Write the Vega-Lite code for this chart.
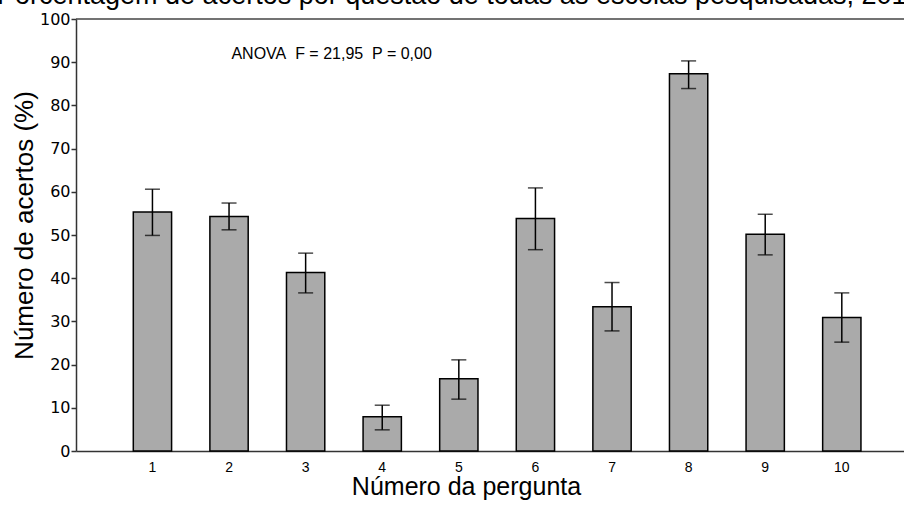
{
  "$schema": "https://vega.github.io/schema/vega-lite/v6.json",
  "width": 828,
  "height": 432,
  "autosize": {"type": "none"},
  "padding": {"left": 76, "top": 19, "right": 0, "bottom": 55},
  "background": "white",
  "config": {"view": {"stroke": null}, "font": "Liberation Sans"},
  "title": {
    "text": "Porcentagem de acertos por questão de todas as escolas pesquisadas, 2018",
    "anchor": "start",
    "frame": "group",
    "dx": -79,
    "dy": 20,
    "fontSize": 27,
    "fontWeight": "normal",
    "font": "Liberation Sans",
    "color": "black",
    "baseline": "alphabetic",
    "offset": 0
  },
  "data": {
    "values": [
      {"q": 1, "pct": 55.3, "lo": 49.9, "hi": 60.6},
      {"q": 2, "pct": 54.3, "lo": 51.2, "hi": 57.4},
      {"q": 3, "pct": 41.3, "lo": 36.6, "hi": 45.8},
      {"q": 4, "pct": 7.9, "lo": 4.9, "hi": 10.6},
      {"q": 5, "pct": 16.7, "lo": 12.0, "hi": 21.1},
      {"q": 6, "pct": 53.8, "lo": 46.6, "hi": 60.9},
      {"q": 7, "pct": 33.4, "lo": 27.8, "hi": 39.0},
      {"q": 8, "pct": 87.3, "lo": 83.9, "hi": 90.3},
      {"q": 9, "pct": 50.2, "lo": 45.4, "hi": 54.8},
      {"q": 10, "pct": 30.9, "lo": 25.2, "hi": 36.6}
    ]
  },
  "layer": [
    {
      "mark": {"type": "bar", "fill": "#aaaaaa", "stroke": "black", "strokeWidth": 1.5},
      "encoding": {
        "x": {
          "field": "q",
          "type": "ordinal",
          "scale": {"paddingInner": 0.5, "paddingOuter": 0.655, "align": 0.571},
          "axis": {
            "title": "Número da pergunta",
            "labelAngle": 0,
            "labelFont": "Liberation Sans",
            "labelFontSize": 14,
            "labelColor": "black",
            "labelPadding": 9,
            "ticks": false,
            "domainColor": "#333333",
            "domainWidth": 1.5,
            "titleFont": "Liberation Sans",
            "titleFontSize": 25,
            "titleFontWeight": "normal",
            "titleColor": "black",
            "titleX": 390,
            "titleY": 43,
            "titleBaseline": "alphabetic",
            "grid": false
          }
        },
        "y": {
          "field": "pct",
          "type": "quantitative",
          "scale": {"domain": [0, 100]},
          "axis": {
            "title": "Número de acertos (%)",
            "values": [0, 10, 20, 30, 40, 50, 60, 70, 80, 90, 100],
            "labelFont": "DejaVu Sans",
            "labelFontSize": 16,
            "labelColor": "black",
            "labelPadding": 1,
            "tickSize": 5,
            "tickColor": "#333333",
            "tickWidth": 1.5,
            "domainColor": "#333333",
            "domainWidth": 1.5,
            "grid": false,
            "titleFont": "Liberation Sans",
            "titleFontSize": 26,
            "titleFontWeight": "normal",
            "titleColor": "black",
            "titleX": -44,
            "titleY": 206,
            "titleBaseline": "alphabetic"
          }
        }
      }
    },
    {
      "mark": {"type": "rule", "color": "black", "strokeWidth": 1.5},
      "encoding": {
        "x": {"field": "q", "type": "ordinal"},
        "y": {"field": "lo", "type": "quantitative"},
        "y2": {"field": "hi"}
      }
    },
    {
      "mark": {"type": "tick", "color": "black", "thickness": 1.5, "size": 15},
      "encoding": {
        "x": {"field": "q", "type": "ordinal"},
        "y": {"field": "hi", "type": "quantitative"}
      }
    },
    {
      "mark": {"type": "tick", "color": "black", "thickness": 1.5, "size": 15},
      "encoding": {
        "x": {"field": "q", "type": "ordinal"},
        "y": {"field": "lo", "type": "quantitative"}
      }
    },
    {
      "data": {"values": [{}]},
      "mark": {"type": "rule", "color": "#444444", "strokeWidth": 1.5},
      "encoding": {"y": {"datum": 100}}
    },
    {
      "data": {"values": [{}]},
      "mark": {"type": "text", "font": "Liberation Sans", "fontSize": 16, "color": "black", "align": "center", "baseline": "middle", "dx": 26},
      "encoding": {
        "x": {"datum": 3, "type": "ordinal"},
        "y": {"datum": 92},
        "text": {"value": "ANOVA\u00a0\u00a0F = 21,95\u00a0\u00a0P = 0,00"}
      }
    }
  ]
}
